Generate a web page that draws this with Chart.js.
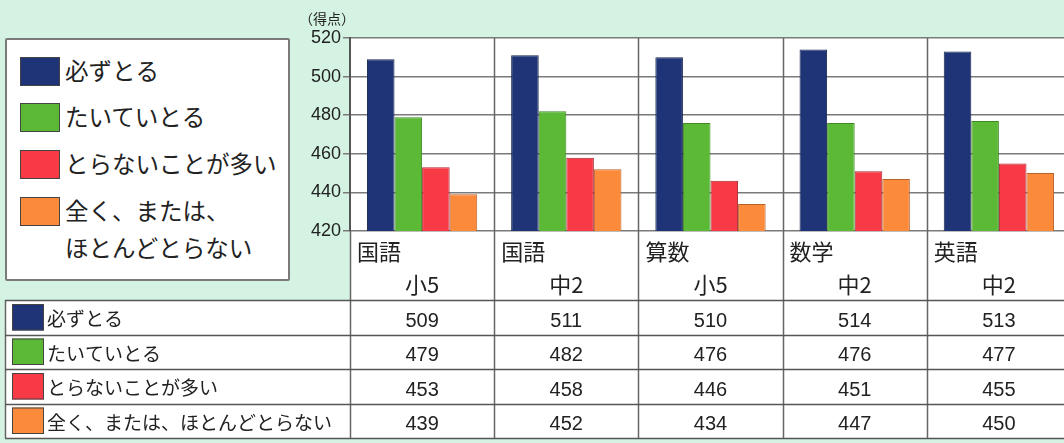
<!DOCTYPE html>
<html>
<head>
<meta charset="utf-8">
<script src="https://cdn.jsdelivr.net/npm/chart.js@4/dist/chart.umd.min.js"></script>
<style>
    html, body { margin: 0; padding: 0; }
    body {
        width: 1064px; height: 443px; overflow: hidden; position: relative;
        background: #d5f3e3;
        font-family: "Noto Sans CJK JP", "Noto Sans", sans-serif; color: #222;
    }
    #chart { position: absolute; left: 0; top: 0; }
    .unit { position: absolute; left: 299px; top: 8px; font-size: 14px; }
    .legend {
        position: absolute; left: 5px; top: 38px; width: 285px; height: 243px;
        box-sizing: border-box; background: #fff; border: 2px solid #7a7a7a; border-radius: 2px;
    }
    .legend-item { position: absolute; left: 13px; font-size: 23.5px; }
    .legend-item .sw {
        position: absolute; left: 0; top: 0; width: 40px; height: 29px;
        box-sizing: border-box; border: 1px solid #444;
    }
    .legend-item .txt { position: absolute; left: 45px; top: -5px; white-space: nowrap; line-height: 37px; }
</style>
</head>
<body>
<canvas id="chart" width="1080" height="443"></canvas>
<div class="unit">（得点）</div>
<div class="legend" id="legend"></div>

<script>
const subjects = ['国語', '国語', '算数', '数学', '英語'];
const grades = ['小5', '中2', '小5', '中2', '中2'];
const seriesNames = ['必ずとる', 'たいていとる', 'とらないことが多い', '全く、または、ほとんどとらない'];
const legendLines = [['必ずとる'], ['たいていとる'], ['とらないことが多い'], ['全く、または、', 'ほとんどとらない']];
const always = [509, 511, 510, 514, 513];
const usually = [479, 482, 476, 476, 477];
const often = [453, 458, 446, 451, 455];
const never = [439, 452, 434, 447, 450];
const yTicks = [420, 440, 460, 480, 500, 520];

const COLORS = ['#1f3476', '#5bb935', '#f83a46', '#fb8b3b'];
const EDGES = ['#16254f', '#3f8a22', '#a8262e', '#b8612a'];
const seriesData = [always, usually, often, never];

// layout of the label band and the table under the plot
const LABEL_BOTTOM = 300;
const TABLE_LEFT = 5;
const ROW_H = 34.5;
const TABLE_BOTTOM = LABEL_BOTTOM + ROW_H * 4;

// legend box (html)
const legend = document.getElementById('legend');
const legendTops = [17, 63, 110, 157];
legend.innerHTML = legendLines.map((lines, i) => `
    <div class="legend-item" style="top:${legendTops[i]}px">
        <div class="sw" style="background:${COLORS[i]}"></div>
        <div class="txt">${lines.join('<br>')}</div>
    </div>
`).join('');

const framePlugin = {
    id: 'frame',
    beforeDraw(chart) {
        const { ctx, chartArea: a } = chart;
        ctx.save();
        ctx.fillStyle = '#fff';
        ctx.fillRect(a.left, a.top, chart.width - a.left, LABEL_BOTTOM - a.top);
        ctx.fillRect(TABLE_LEFT, LABEL_BOTTOM, chart.width - TABLE_LEFT, TABLE_BOTTOM - LABEL_BOTTOM);
        ctx.restore();
    },
    afterDraw(chart) {
        const { ctx, chartArea: a } = chart;
        const x = chart.scales.x;
        const w = (x.right - x.left) / subjects.length;
        ctx.save();

        // column lines through plot, label band and table
        ctx.strokeStyle = '#666';
        ctx.lineWidth = 1.5;
        for (let i = 0; i <= subjects.length; i++) {
            const px = Math.round(x.left + i * w) + 0.5;
            ctx.beginPath();
            ctx.moveTo(px, i === 0 ? a.bottom : a.top);
            ctx.lineTo(px, TABLE_BOTTOM);
            ctx.stroke();
        }
        ctx.beginPath();
        ctx.moveTo(TABLE_LEFT + 0.5, LABEL_BOTTOM);
        ctx.lineTo(TABLE_LEFT + 0.5, TABLE_BOTTOM);
        ctx.stroke();

        // table row lines
        ctx.strokeStyle = '#555';
        for (let r = 0; r <= 4; r++) {
            const py = Math.round(LABEL_BOTTOM + r * ROW_H) + 0.5;
            ctx.beginPath();
            ctx.moveTo(TABLE_LEFT, py);
            ctx.lineTo(chart.width, py);
            ctx.stroke();
        }

        // category labels
        ctx.fillStyle = '#222';
        ctx.textBaseline = 'middle';
        subjects.forEach((s, i) => {
            const cx = x.getPixelForValue(i);
            ctx.font = '22px "Noto Sans CJK JP"';
            ctx.textAlign = 'left';
            ctx.fillText(s, cx - w / 2 + 7, 252);
            ctx.textAlign = 'center';
            ctx.fillText(grades[i], cx, 285);
        });

        // table rows
        seriesNames.forEach((name, r) => {
            const top = LABEL_BOTTOM + r * ROW_H;
            ctx.fillStyle = COLORS[r];
            ctx.fillRect(12, top + 4, 32, ROW_H - 8);
            ctx.strokeStyle = '#444';
            ctx.lineWidth = 1;
            ctx.strokeRect(12.5, top + 4.5, 31, ROW_H - 9);
            ctx.fillStyle = '#222';
            ctx.textAlign = 'left';
            ctx.font = '19px "Noto Sans CJK JP"';
            ctx.fillText(name, 47, top + ROW_H / 2 + 2);
            ctx.textAlign = 'center';
            ctx.font = '20px "Liberation Sans"';
            seriesData[r].forEach((v, i) => {
                ctx.fillText(String(v), x.getPixelForValue(i), top + ROW_H / 2 + 4);
            });
        });
        ctx.restore();
    }
};

new Chart(document.getElementById('chart'), {
    type: 'bar',
    data: {
        labels: subjects.map((s, i) => s + grades[i]),
        datasets: seriesNames.map((name, i) => ({
            label: name,
            data: seriesData[i],
            backgroundColor: COLORS[i],
            borderColor: EDGES[i],
            borderWidth: 1,
            categoryPercentage: 0.765,
            barPercentage: 1.0
        }))
    },
    options: {
        responsive: false,
        animation: false,
        layout: { padding: { left: 0, top: 38, right: 9, bottom: 212 } },
        plugins: { legend: { display: false }, tooltip: { enabled: false } },
        scales: {
            x: { display: false },
            y: {
                min: 420,
                max: 520,
                afterFit: s => { s.width = 350; },
                afterBuildTicks: s => { s.ticks = yTicks.map(v => ({ value: v })); },
                ticks: {
                    padding: 2,
                    color: '#222',
                    font: { family: 'Liberation Sans', size: 18 }
                },
                grid: { color: '#7a7a7a', lineWidth: 1.5, tickLength: 7 },
                border: { color: '#555', width: 2 }
            }
        }
    },
    plugins: [framePlugin]
});
</script>
</body>
</html>
